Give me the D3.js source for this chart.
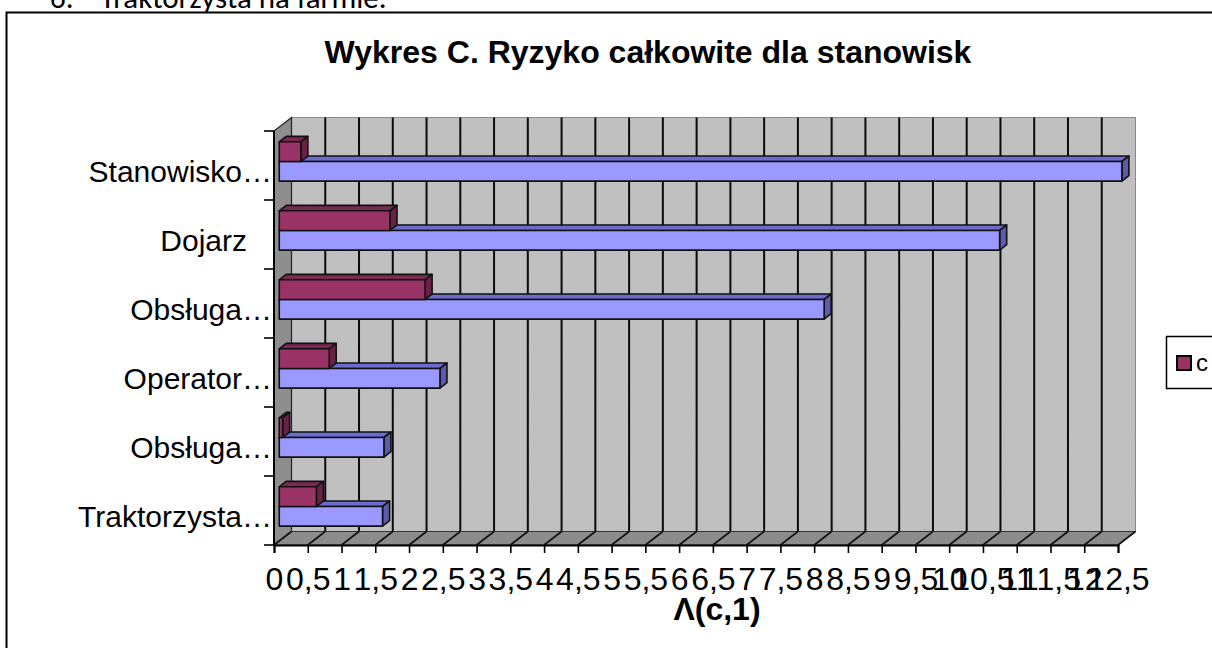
<!DOCTYPE html>
<html>
<head>
<meta charset="utf-8">
<script src="https://cdn.jsdelivr.net/npm/d3@7"></script>
<style>
  body { margin: 0; background: #fff; }
  svg { display: block; }
  text { font-family: "Liberation Sans", Arial, sans-serif; fill: #000; }
</style>
</head>
<body>
<svg id="chart" width="1212" height="648"></svg>
<script>
// Job positions, listed from the bottom of the chart upwards
const categories = ["Traktorzysta…", "Obsługa…", "Operator…", "Obsługa…", "Dojarz   ", "Stanowisko…"];
// Total risk per position (blue series)
const valuesMain = [1.53, 1.55, 2.38, 8.07, 10.67, 12.48];
// Series "c" (maroon)
const valuesC = [0.55, 0.05, 0.74, 2.16, 1.64, 0.32];
// Value-axis ticks
const tickValues = [0, 0.5, 1, 1.5, 2, 2.5, 3, 3.5, 4, 4.5, 5, 5.5, 6, 6.5, 7, 7.5, 8, 8.5, 9, 9.5, 10, 10.5, 11, 11.5, 12, 12.5];
const titleText = "Wykres C. Ryzyko całkowite dla stanowisk";
const axisTitleText = "Λ(c,1)";
const legendLabel = "c";
const headingNumber = "6.";
const headingText = "Traktorzysta na farmie.";

const svg = d3.select("#chart");

// Fine grain used on the textured walls
const defs = svg.append("defs");
const grain = defs.append("filter").attr("id", "grain").attr("x", 0).attr("y", 0).attr("width", 1).attr("height", 1);
grain.append("feTurbulence").attr("type", "fractalNoise").attr("baseFrequency", 0.85).attr("numOctaves", 2).attr("seed", 3).attr("result", "n");
grain.append("feColorMatrix").attr("in", "n").attr("type", "matrix")
  .attr("values", "0 0 0 0 0.5  0 0 0 0 0.5  0 0 0 0 0.5  1.2 0 0 0 -0.45").attr("result", "g");
grain.append("feComposite").attr("in", "g").attr("in2", "SourceAlpha").attr("operator", "in");

// Front plane of the 3-D plot box and its depth offset
const plot = { left: 274, right: 1118, top: 131, bottom: 545 };
const depth = { dx: 17.5, dy: -13.5 };
const barDepth = [0.3, 0.7];
const P = (x, y, d) => [x + d * depth.dx, y + d * depth.dy];

const x = d3.scaleLinear().domain([0, 12.5]).range([plot.left, plot.right]);
const idx = d3.range(categories.length);
const y = d3.scaleBand().domain(idx).range([plot.bottom, plot.top])
  .paddingInner(0.43).paddingOuter(0.215);
const ySeries = d3.scaleBand().domain(["c", "main"]).range([0, y.bandwidth()]);

const locale = d3.formatLocale({ decimal: ",", thousands: " ", grouping: [3], currency: ["", " zł"] });
const fmt = locale.format(".1~f");

// Outer chart frame
svg.append("rect").attr("x", 6.5).attr("y", 12.5).attr("width", 1400).attr("height", 800)
  .attr("fill", "#fff").attr("stroke", "#000").attr("stroke-width", 2);

// Heading of the surrounding document
svg.append("text").attr("x", 50).attr("y", 8).style("font-family", "Carlito, Lato, sans-serif")
  .style("font-size", "31px").text(headingNumber);
svg.append("text").attr("x", 100).attr("y", 8).style("font-family", "Carlito, Lato, sans-serif")
  .style("font-size", "31px").text(headingText);

const poly = pts => pts.map(p => p.join(",")).join(" ");

// Back wall
const bw0 = P(plot.left, plot.top, 1), bw1 = P(plot.right, plot.bottom, 1);
const wall = svg.append("g");
wall.append("rect").attr("x", bw0[0]).attr("y", bw0[1])
  .attr("width", bw1[0] - bw0[0]).attr("height", bw1[1] - bw0[1])
  .attr("fill", "#c0c0c0");
wall.append("rect").attr("x", bw0[0]).attr("y", bw0[1])
  .attr("width", bw1[0] - bw0[0]).attr("height", bw1[1] - bw0[1])
  .attr("fill", "#fff").attr("filter", "url(#grain)").attr("opacity", 0.35);
wall.append("rect").attr("x", bw0[0]).attr("y", bw0[1])
  .attr("width", bw1[0] - bw0[0]).attr("height", bw1[1] - bw0[1])
  .attr("fill", "none").attr("stroke", "#8a8a8a").attr("stroke-width", 1);

// Vertical gridlines on the back wall
svg.append("g").selectAll("line").data(tickValues.filter(v => v > 0 && v < 12.5)).join("line")
  .attr("x1", d => P(x(d), 0, 1)[0]).attr("x2", d => P(x(d), 0, 1)[0])
  .attr("y1", bw0[1]).attr("y2", bw1[1])
  .attr("stroke", "#0a0a0a").attr("stroke-width", 2);

// Left side wall
svg.append("polygon")
  .attr("points", poly([[plot.left, plot.top], P(plot.left, plot.top, 1), P(plot.left, plot.bottom, 1), [plot.left, plot.bottom]]))
  .attr("fill", "#8e8e8e").attr("stroke", "#222").attr("stroke-width", 1.2);

// Floor
svg.append("polygon")
  .attr("points", poly([[plot.left, plot.bottom], P(plot.left, plot.bottom, 1), P(plot.right, plot.bottom, 1), [plot.right, plot.bottom]]))
  .attr("fill", "#8c8c8c").attr("stroke", "#333").attr("stroke-width", 1);
svg.append("g").selectAll("line").data(tickValues).join("line")
  .attr("x1", d => x(d)).attr("y1", plot.bottom)
  .attr("x2", d => P(x(d), plot.bottom, 1)[0]).attr("y2", d => P(x(d), plot.bottom, 1)[1])
  .attr("stroke", "#111").attr("stroke-width", 1.6);

// 3-D bars
const series = [
  { key: "main", values: valuesMain, front: "#9999ff", top: "#6b6bd0", side: "#5c5cab" },
  { key: "c", values: valuesC, front: "#993366", top: "#7a2953", side: "#672244" }
];
const bars = [];
idx.forEach(i => series.forEach(s => bars.push({ i, s, v: s.values[i] })));
const gBars = svg.append("g").attr("stroke", "#111").attr("stroke-width", 1.6).attr("stroke-linejoin", "round");
bars.forEach(b => {
  const y0 = y(b.i) + ySeries(b.s.key), y1 = y0 + ySeries.bandwidth();
  const x0 = x(0), x1 = x(b.v);
  const [d0, d1] = barDepth;
  const g = gBars.append("g");
  g.append("polygon").attr("fill", b.s.top)
    .attr("points", poly([P(x0, y0, d0), P(x1, y0, d0), P(x1, y0, d1), P(x0, y0, d1)]));
  g.append("polygon").attr("fill", b.s.side)
    .attr("points", poly([P(x1, y0, d0), P(x1, y0, d1), P(x1, y1, d1), P(x1, y1, d0)]));
  g.append("polygon").attr("fill", b.s.front)
    .attr("points", poly([P(x0, y0, d0), P(x1, y0, d0), P(x1, y1, d0), P(x0, y1, d0)]));
});

// Value axis along the front edge of the floor
const xAxis = d3.axisBottom(x).tickValues(tickValues).tickFormat(fmt).tickSize(8).tickPadding(14);
const gx = svg.append("g").attr("transform", `translate(0,${plot.bottom})`).call(xAxis);
gx.select(".domain").attr("stroke", "#000").attr("stroke-width", 2);
gx.selectAll(".tick line").attr("stroke", "#000").attr("stroke-width", 1.6);
gx.selectAll(".tick text").attr("font-family", null).style("font-size", "32px").attr("fill", "#000");

// Category axis with ticks between the categories
const step = y.step();
const bounds = d3.range(categories.length + 1).map(k => plot.bottom - k * step);
svg.append("line").attr("x1", plot.left).attr("x2", plot.left).attr("y1", plot.top).attr("y2", plot.bottom)
  .attr("stroke", "#000").attr("stroke-width", 2);
svg.append("g").selectAll("line").data(bounds).join("line")
  .attr("x1", plot.left - 10).attr("x2", plot.left).attr("y1", d => d).attr("y2", d => d)
  .attr("stroke", "#000").attr("stroke-width", 1.6);
svg.append("g").selectAll("text").data(idx).join("text")
  .attr("x", 272).attr("y", i => y(i) + y.bandwidth() / 2 + 16)
  .attr("text-anchor", "end").style("font-size", "30px").style("white-space", "pre")
  .text(i => categories[i]);

// Titles
svg.append("text").attr("x", 648).attr("y", 63).attr("text-anchor", "middle")
  .style("font-size", "32px").style("font-weight", "bold").text(titleText);
svg.append("text").attr("x", 717).attr("y", 620).attr("text-anchor", "middle")
  .style("font-size", "32px").style("font-weight", "bold").text(axisTitleText);

// Legend
const lg = svg.append("g").attr("transform", "translate(1166,336)");
lg.append("rect").attr("x", 0.5).attr("y", 0.5).attr("width", 90).attr("height", 52)
  .attr("fill", "#fff").attr("stroke", "#000").attr("stroke-width", 1.5);
lg.append("rect").attr("x", 11).attr("y", 20).attr("width", 14).attr("height", 14)
  .attr("fill", "#993366").attr("stroke", "#000").attr("stroke-width", 2);
lg.append("text").attr("x", 30).attr("y", 35).style("font-size", "24px").text(legendLabel);
</script>
</body>
</html>
